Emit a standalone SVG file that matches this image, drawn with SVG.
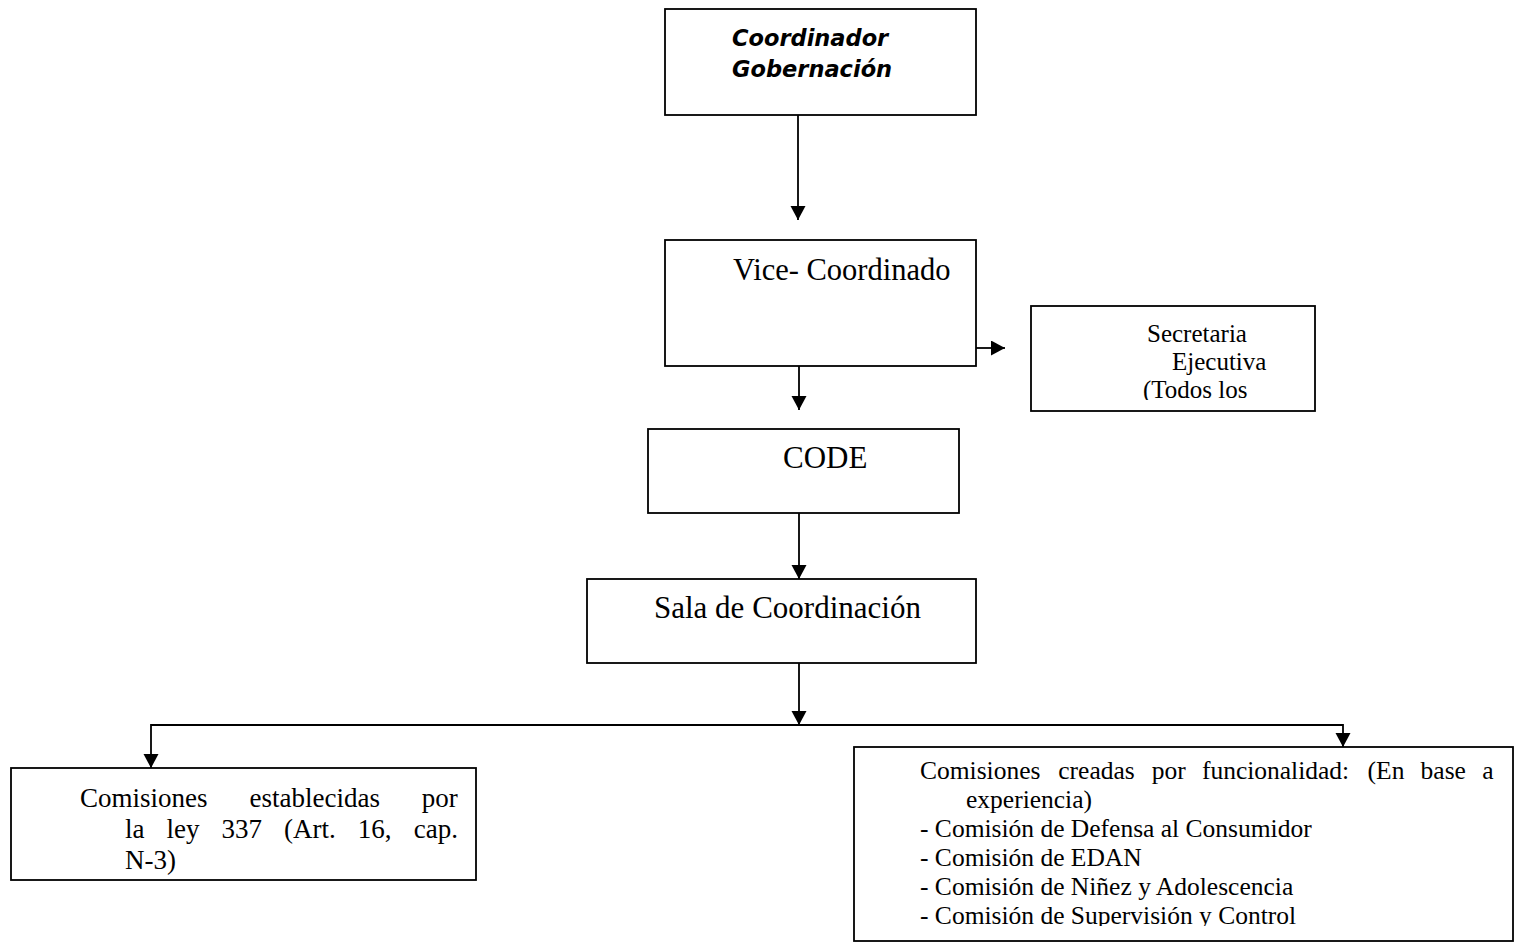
<svg xmlns="http://www.w3.org/2000/svg" width="1518" height="945" viewBox="0 0 1518 945">
<style>
.box{fill:#fff;stroke:#000;stroke-width:1.8}
.t{font-family:"Liberation Serif","Times New Roman",serif;fill:#000}
.big{font-size:31px}
.mid{font-size:25px}
.sm{font-size:25.5px}
.lg{font-size:27px}
.bi{font-family:"DejaVu Sans",Verdana,sans-serif;font-weight:bold;font-style:italic;font-size:22.5px;fill:#000}
.c{fill:none;stroke:#000;stroke-width:1.8}
</style>
<defs>
<marker id="ah" markerUnits="userSpaceOnUse" markerWidth="15" markerHeight="16" refX="14" refY="7.5" orient="auto">
<path d="M0,0 L14,7.5 L0,15 z" fill="#000"/>
</marker>
<clipPath id="clipSec"><rect x="1032" y="307" width="282" height="93"/></clipPath>
<clipPath id="clipRight"><rect x="855" y="748" width="657" height="178"/></clipPath>
</defs>
<rect width="1518" height="945" fill="#fff"/>

<g id="connectors">
<line class="c" x1="798" y1="115" x2="798" y2="220" marker-end="url(#ah)"/>
<line class="c" x1="976" y1="348" x2="1005" y2="348" marker-end="url(#ah)"/>
<line class="c" x1="799" y1="366" x2="799" y2="410" marker-end="url(#ah)"/>
<line class="c" x1="799" y1="513" x2="799" y2="579" marker-end="url(#ah)"/>
<line class="c" x1="799" y1="663" x2="799" y2="725" marker-end="url(#ah)"/>
<polyline class="c" points="799,725 151,725 151,768" marker-end="url(#ah)"/>
<polyline class="c" points="799,725 1343,725 1343,747" marker-end="url(#ah)"/>
</g>

<g id="coordinador">
<rect class="box" x="665" y="9" width="311" height="106"/>
<text class="bi" x="732" y="46">Coordinador</text>
<text class="bi" x="732" y="77">Gobernación</text>
</g>

<g id="vice">
<rect class="box" x="665" y="240" width="311" height="126"/>
<text class="t" x="733" y="280" font-size="30.5">Vice- Coordinado</text>
</g>

<g id="secretaria">
<rect class="box" x="1031" y="306" width="284" height="105"/>
<g clip-path="url(#clipSec)">
<text class="t mid" x="1147" y="342">Secretaria</text>
<text class="t mid" x="1172" y="370">Ejecutiva</text>
<text class="t mid" x="1143" y="398">(Todos los</text>
</g>
</g>

<g id="code">
<rect class="box" x="648" y="429" width="311" height="84"/>
<text class="t big" x="783" y="468">CODE</text>
</g>

<g id="sala">
<rect class="box" x="587" y="579" width="389" height="84"/>
<text class="t big" x="654" y="618">Sala de Coordinación</text>
</g>

<g id="comisiones-ley">
<rect class="box" x="11" y="768" width="465" height="112"/>
<text class="t lg" y="807"><tspan x="80">Comisiones</tspan><tspan x="249.5">establecidas</tspan><tspan x="421.8">por</tspan></text>
<text class="t lg" y="838"><tspan x="125">la</tspan><tspan x="166.5">ley</tspan><tspan x="221.5">337</tspan><tspan x="284">(Art.</tspan><tspan x="357.7">16,</tspan><tspan x="413.8">cap.</tspan></text>
<text class="t lg" x="125" y="869">N-3)</text>
</g>

<g id="comisiones-funcionalidad">
<rect class="box" x="854" y="747" width="659" height="194"/>
<g clip-path="url(#clipRight)">
<text class="t sm" y="779"><tspan x="920">Comisiones</tspan><tspan x="1058.3">creadas</tspan><tspan x="1151.7">por</tspan><tspan x="1201.9">funcionalidad:</tspan><tspan x="1367.6">(En</tspan><tspan x="1420.6">base</tspan><tspan x="1482.3">a</tspan></text>
<text class="t sm" x="966" y="808">experiencia)</text>
<text class="t sm" x="920" y="837">- Comisión de Defensa al Consumidor</text>
<text class="t sm" x="920" y="866">- Comisión de EDAN</text>
<text class="t sm" x="920" y="895">- Comisión de Niñez y Adolescencia</text>
<text class="t sm" x="920" y="924">- Comisión de Supervisión y Control</text>
</g>
</g>
</svg>
